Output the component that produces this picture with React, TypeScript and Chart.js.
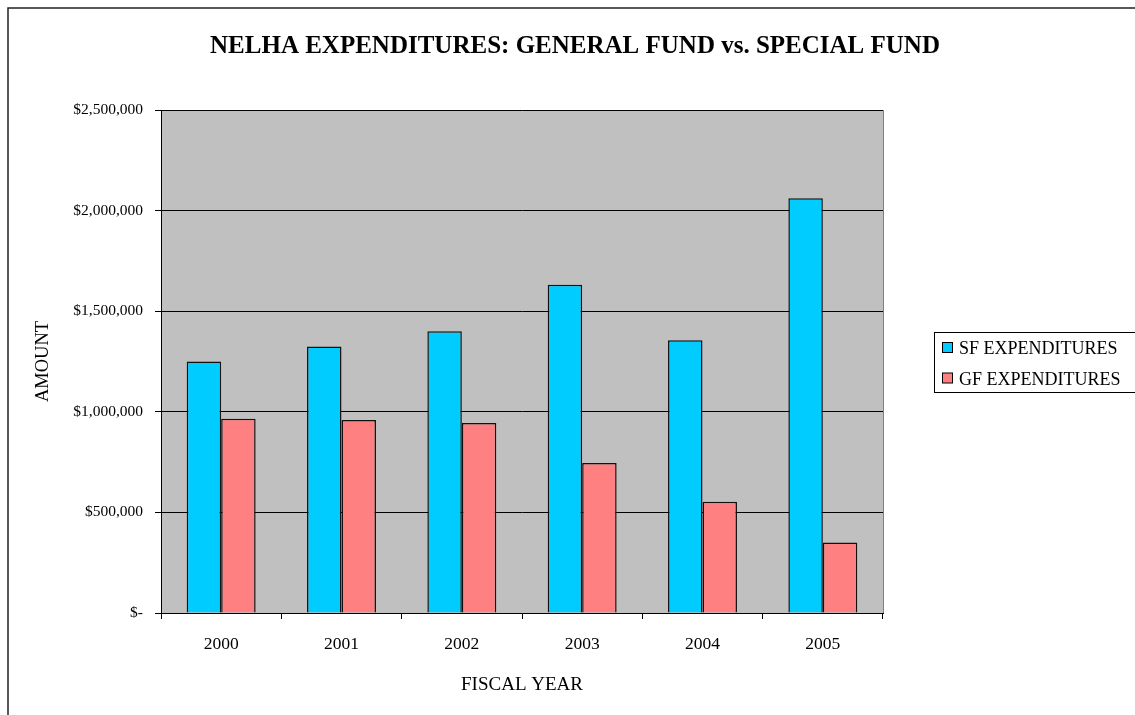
import React, { useEffect, useRef } from 'react';
import { Chart, registerables } from 'chart.js';

Chart.register(...registerables);

const chartTitle = 'NELHA EXPENDITURES: GENERAL FUND vs. SPECIAL FUND';
const xAxisTitle = 'FISCAL YEAR';
const yAxisTitle = 'AMOUNT';
const fiscalYears = ['2000', '2001', '2002', '2003', '2004', '2005'];
const sfExpenditures = [1250000, 1325000, 1400000, 1632000, 1355000, 2062000];
const gfExpenditures = [966000, 959000, 944000, 746000, 553000, 350000];
const seriesLabels = ['SF EXPENDITURES', 'GF EXPENDITURES'];
const seriesColors = ['#00CCFF', '#FF8080'];
const yMin = 0;
const yMax = 2500000;
const yStep = 500000;

const SERIF = "'Liberation Serif', 'Times New Roman', Times, serif";

const W = 1150;
const H = 730;

const decorPlugin = {
  id: 'decor',
  beforeDraw(chart: any) {
    const { ctx, chartArea } = chart;
    ctx.save();
    ctx.fillStyle = '#ffffff';
    ctx.fillRect(0, 0, chart.width, chart.height);
    ctx.fillStyle = '#C0C0C0';
    ctx.fillRect(chartArea.left, chartArea.top, chartArea.right - chartArea.left, chartArea.bottom - chartArea.top);
    ctx.restore();
  },
  afterDraw(chart: any) {
    const { ctx, chartArea } = chart;
    ctx.save();
    // plot area right border
    ctx.strokeStyle = '#808080';
    ctx.lineWidth = 1;
    ctx.beginPath();
    ctx.moveTo(chartArea.right + 0.5, chartArea.top);
    ctx.lineTo(chartArea.right + 0.5, chartArea.bottom);
    ctx.stroke();

    // outer chart border
    ctx.strokeStyle = '#222222';
    ctx.lineWidth = 1.5;
    ctx.strokeRect(8, 8, W + 100, H + 100);

    // title
    ctx.fillStyle = '#000000';
    ctx.font = `bold 25px ${SERIF}`;
    ctx.textAlign = 'center';
    ctx.textBaseline = 'middle';
    ctx.fillText(chartTitle, 575, 47);

    // legend
    ctx.strokeStyle = '#000000';
    ctx.lineWidth = 1;
    ctx.fillStyle = '#ffffff';
    ctx.fillRect(934.5, 332.5, 300, 60);
    ctx.strokeRect(934.5, 332.5, 300, 60);
    ctx.font = `18px ${SERIF}`;
    ctx.textAlign = 'left';
    ctx.textBaseline = 'middle';
    chart.data.datasets.forEach((ds: any, i: number) => {
      const cy = 348 + i * 30.5;
      ctx.fillStyle = ds.backgroundColor;
      ctx.fillRect(942.5, cy - 5.5, 10, 10);
      ctx.strokeStyle = '#000000';
      ctx.strokeRect(942.5, cy - 5.5, 10, 10);
      ctx.fillStyle = '#000000';
      ctx.fillText(ds.label, 959, cy + 1.5);
    });
    ctx.restore();
  },
};

export default function App() {
  const canvasRef = useRef<HTMLCanvasElement | null>(null);

  useEffect(() => {
    if (!canvasRef.current) return;
    const chart = new Chart(canvasRef.current, {
      type: 'bar',
      data: {
        labels: fiscalYears,
        datasets: [
          {
            label: seriesLabels[0],
            data: sfExpenditures,
            backgroundColor: seriesColors[0],
            borderColor: '#111111',
            borderWidth: 1.5,
            categoryPercentage: 0.573,
            barPercentage: 1,
          },
          {
            label: seriesLabels[1],
            data: gfExpenditures,
            backgroundColor: seriesColors[1],
            borderColor: '#111111',
            borderWidth: 1.5,
            categoryPercentage: 0.573,
            barPercentage: 1,
          },
        ],
      },
      options: {
        responsive: false,
        animation: false,
        devicePixelRatio: 1,
        layout: { padding: { left: 0, right: W - 883, top: 110, bottom: H - 715 } },
        plugins: {
          legend: { display: false },
          title: { display: false },
          tooltip: { enabled: false },
        },
        scales: {
          x: {
            offset: true,
            afterFit: (scale: any) => {
              scale.height = 102;
            },
            grid: {
              display: true,
              offset: true,
              drawOnChartArea: false,
              drawTicks: true,
              tickLength: 6,
              color: '#000000',
            },
            border: { display: true, color: '#000000', width: 1 },
            ticks: {
              color: '#000000',
              font: { family: SERIF, size: 17.5 },
              padding: 15,
              maxRotation: 0,
            },
            title: {
              display: true,
              text: xAxisTitle,
              color: '#000000',
              font: { family: SERIF, size: 19 },
              padding: { top: 0, bottom: 19 },
            },
          },
          y: {
            min: yMin,
            max: yMax,
            afterFit: (scale: any) => {
              scale.width = 161;
            },
            grid: {
              display: true,
              drawTicks: true,
              tickLength: 6,
              color: '#000000',
              lineWidth: 1,
            },
            border: { display: true, color: '#000000', width: 1 },
            ticks: {
              stepSize: yStep,
              color: '#000000',
              font: { family: SERIF, size: 15.5 },
              padding: 12,
              callback: (v: any) => (Number(v) === 0 ? '$-' : '$' + Number(v).toLocaleString('en-US')),
            },
            title: {
              display: true,
              text: yAxisTitle,
              color: '#000000',
              font: { family: SERIF, size: 18.5 },
              padding: { top: 32, bottom: 0 },
            },
          },
        },
      },
      plugins: [decorPlugin],
    });
    return () => chart.destroy();
  }, []);

  return (
    <div style={{ position: 'fixed', left: 0, top: 0, width: 1135, height: 715, overflow: 'hidden', background: '#fff' }}>
      <canvas ref={canvasRef} width={W} height={H} style={{ width: W, height: H, display: 'block' }} />
    </div>
  );
}
